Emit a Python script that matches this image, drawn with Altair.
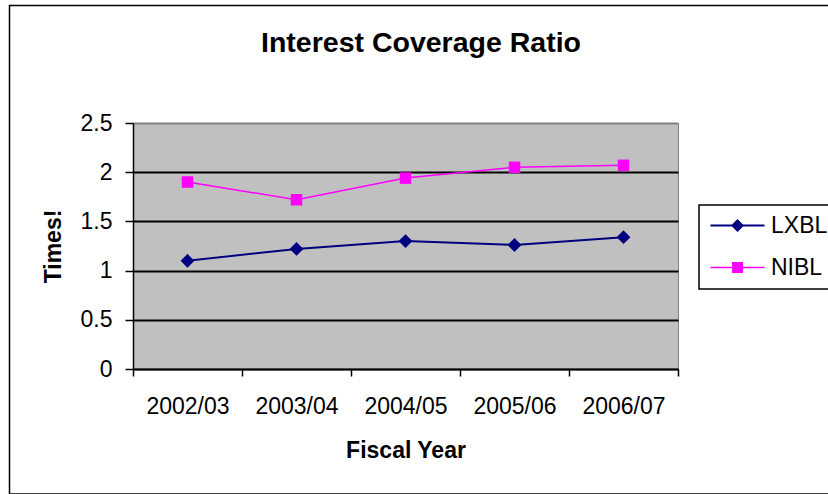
import altair as alt
import pandas as pd

# Interest coverage ratio (times) by fiscal year
years = ["2002/03", "2003/04", "2004/05", "2005/06", "2006/07"]
lxbl = [1.10, 1.22, 1.30, 1.26, 1.34]
nibl = [1.90, 1.72, 1.94, 2.05, 2.07]
series_names = ["LXBL", "NIBL"]
series_colors = ["#000080", "#FF00FF"]
y_ticks = [0, 0.5, 1, 1.5, 2, 2.5]
chart_title = "Interest Coverage Ratio"

df = pd.DataFrame({
    "year": years * 2,
    "value": lxbl + nibl,
    "series": [series_names[0]] * len(years) + [series_names[1]] * len(years),
})

FONT = "Liberation Sans"

# legend keys: a short line through each series' marker
key_shapes = [
    "M-2.7,-0.1L2.7,-0.1L2.7,0.1L-2.7,0.1Z M0,-0.65L0.65,0L0,0.65L-0.65,0Z",
    "M-2.7,-0.08L2.7,-0.08L2.7,0.08L-2.7,0.08Z M-0.55,-0.55L0.55,-0.55L0.55,0.55L-0.55,0.55Z",
]

x = alt.X(
    "year:N",
    sort=years,
    scale=alt.Scale(paddingInner=0, paddingOuter=0),
    axis=alt.Axis(
        title="Fiscal Year",
        tickBand="extent",
        labelAngle=0,
        tickSize=7,
        labelPadding=37.5,
        labelBaseline="alphabetic",
        titleBaseline="alphabetic",
        titleY=88,
    ),
)
y = alt.Y(
    "value:Q",
    scale=alt.Scale(domain=[0, 2.5], nice=False),
    axis=alt.Axis(
        title="Times!",
        values=y_ticks,
        format="~g",
        grid=True,
        gridColor={"condition": {"test": "datum.value >= 2.5", "value": "#808080"}, "value": "black"},
        gridWidth=1.8,
        tickSize=8,
        labelPadding=13,
        titleX=-73,
        titleY=123,
        titleBaseline="alphabetic",
    ),
)

base = alt.Chart(df)


def series_layers(name, color, width, shape, size):
    sub = base.transform_filter(alt.datum.series == name)
    line = sub.mark_line(color=color, strokeWidth=width).encode(x=x, y=y)
    pts = sub.mark_point(shape=shape, filled=True, size=size, opacity=1, color=color).encode(x=x, y=y)
    return [line, pts]


lx_layers = series_layers(series_names[0], series_colors[0], 2, "diamond", 190)
ni_layers = series_layers(series_names[1], series_colors[1], 1.5, "square", 132)

# invisible points that carry the series legend
legend_def = alt.Legend(title=None, orient="none", legendX=566, legendY=82)
legend_keys = base.mark_point(filled=True, opacity=0).encode(
    x=x,
    y=y,
    color=alt.Color("series:N", scale=alt.Scale(domain=series_names, range=series_colors), legend=legend_def),
    shape=alt.Shape("series:N", scale=alt.Scale(domain=series_names, range=key_shapes), legend=legend_def),
)

# chart heading
heading = alt.Chart(alt.Data(values=[{"t": chart_title}])).mark_text(
    font=FONT, fontSize=28.5, fontWeight="bold", color="black", align="center", baseline="alphabetic"
).encode(text="t:N", x=alt.value(288), y=alt.value(-71))

# border around the whole chart
frame = alt.Chart(alt.Data(values=[{}])).mark_rect(
    fillOpacity=0, stroke="black", strokeWidth=1.5
).encode(
    x=alt.value(-123.5), x2=alt.value(720), y=alt.value(-117.5), y2=alt.value(371)
)

chart = alt.layer(frame, heading, *lx_layers, *ni_layers, legend_keys).properties(
    width=545,
    height=246,
    padding={"left": 133, "top": 123, "right": 150, "bottom": 125},
    autosize=alt.AutoSizeParams(type="none"),
).configure(
    background="white",
).configure_view(
    fill="#C0C0C0", stroke="#808080", strokeWidth=1
).configure_axis(
    domainColor="black",
    domainWidth=1.5,
    tickColor="black",
    tickWidth=1.5,
    labelFont=FONT,
    labelFontSize=23,
    labelColor="black",
    titleFont=FONT,
    titleFontSize=23,
    titleFontWeight="bold",
    titleColor="black",
).configure_legend(
    strokeColor="black",
    strokeWidth=1.5,
    fillColor="white",
    padding=9,
    labelFont=FONT,
    labelFontSize=23,
    labelColor="black",
    labelLimit=300,
    symbolSize=400,
    symbolStrokeWidth=0,
    symbolOffset=18,
    labelOffset=22,
    rowPadding=18,
    symbolOpacity=1,
)

chart.save("out.html", embed_options={"renderer": "svg", "actions": False})
